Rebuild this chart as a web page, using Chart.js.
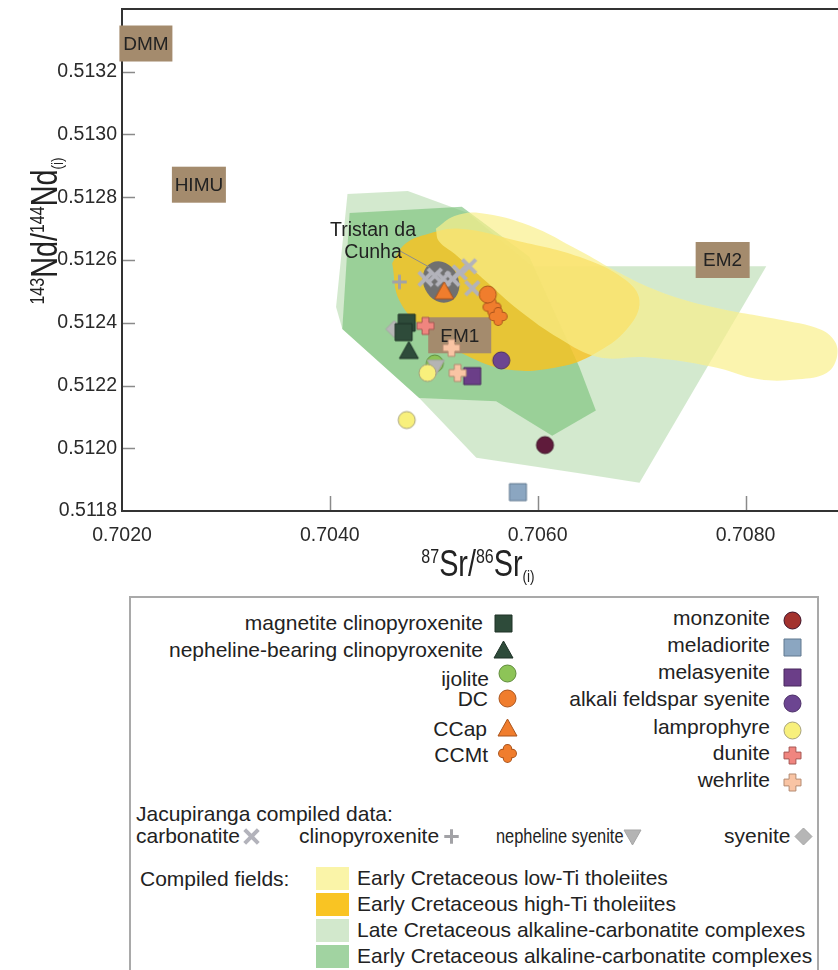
<!DOCTYPE html>
<html>
<head>
<meta charset="utf-8">
<script src="https://cdn.jsdelivr.net/npm/chart.js@4.4.1/dist/chart.umd.min.js"></script>
<style>
  body { margin: 0; background: #fff; }
  #wrap { position: relative; width: 838px; height: 970px; overflow: hidden; font-family: "Liberation Sans", Arial, sans-serif; color: #222; }
  #plot { position: absolute; left: 0; top: 0; }
  #legendBox { position: absolute; left: 129px; top: 596px; width: 686px; height: 420px; border: 2px solid #a9a9a9; }
  .lt { position: absolute; font-size: 21px; line-height: 24px; white-space: nowrap; }
  .sym { position: absolute; }
  .sw { position: absolute; width: 33px; height: 23px; }
</style>
</head>
<body>
<div id="wrap">
  <canvas id="plot" width="838" height="595"></canvas>
  <div id="legendBox"></div>
</div>
<script>
const FONT = '"Liberation Sans", Arial, Helvetica, sans-serif';

// axis ticks
const srTicks = [0.7020, 0.7040, 0.7060, 0.7080];
const ndTicks = [0.5118, 0.5120, 0.5122, 0.5124, 0.5126, 0.5128, 0.5130, 0.5132];

// compiled fields, outlines as [87Sr/86Sr, 143Nd/144Nd]
const lateCretAlk = [[0.70417, 0.51281], [0.70475, 0.51282], [0.70533, 0.51275], [0.70595, 0.51258],
  [0.70820, 0.51258], [0.70698, 0.51189], [0.70640, 0.51192], [0.70541, 0.51197],
  [0.70486, 0.51216], [0.70412, 0.51238], [0.70406, 0.51245]];
const earlyCretAlk = [[0.70419, 0.51275], [0.70527, 0.51277], [0.70592, 0.51261], [0.70640, 0.51226],
  [0.70656, 0.51212], [0.70614, 0.51204], [0.70560, 0.51215], [0.70486, 0.51216], [0.70412, 0.51238]];
const highTiThol = [[0.70460, 0.51259], [0.70472, 0.51265], [0.70491, 0.51268], [0.70525, 0.51270],
  [0.70582, 0.51266], [0.70640, 0.51261], [0.70683, 0.51254], [0.70698, 0.51247], [0.70686, 0.51238],
  [0.70654, 0.51230], [0.70621, 0.51226], [0.70573, 0.51225], [0.70529, 0.51230], [0.70491, 0.51238],
  [0.70467, 0.51247]];
const lowTiThol = [[0.70502, 0.51270], [0.70520, 0.51274], [0.70544, 0.51275], [0.70592, 0.51271],
  [0.70640, 0.51263], [0.70678, 0.51256], [0.70717, 0.51250], [0.70768, 0.51245], [0.70832, 0.51241],
  [0.70871, 0.51238], [0.70886, 0.51234], [0.70888, 0.51229], [0.70878, 0.51224], [0.70851, 0.51222],
  [0.70813, 0.51222], [0.70768, 0.51226], [0.70704, 0.51229], [0.70659, 0.51229], [0.70621, 0.51235],
  [0.70582, 0.51244], [0.70551, 0.51253], [0.70520, 0.51262], [0.70505, 0.51266]];

// samples (this study)
const magnetiteCpx = [[0.70474, 0.51240], [0.70471, 0.51237]];
const nephelineCpx = [[0.70476, 0.51231]];
const ijolite = [[0.70501, 0.51227]];
const dc = [[0.70552, 0.51249]];
const ccap = [[0.70510, 0.51250]];
const ccmt = [[0.70556, 0.51245], [0.70562, 0.51242]];
const monzonite = [[0.70607, 0.51201]];
const meladiorite = [[0.70581, 0.51186]];
const melasyenite = [[0.70537, 0.51223]];
const alkaliFsSyenite = [[0.70565, 0.51228]];
const lamprophyre = [[0.70494, 0.51224], [0.70474, 0.51209]];
const dunite = [[0.70492, 0.51239]];
const wehrlite = [[0.70517, 0.51232], [0.70523, 0.51224]];

// Jacupiranga compiled data
const jacCarbonatite = [[0.70492, 0.51254], [0.70501, 0.51255], [0.70509, 0.51254], [0.70518, 0.51254],
  [0.70525, 0.51256], [0.70534, 0.51258], [0.70537, 0.51251]];
const jacCpx = [[0.70467, 0.51253]];
const jacNephSyenite = [[0.70502, 0.51226]];
const jacSyenite = [[0.70462, 0.51238]];

// mantle end-members and Tristan da Cunha
const mantleNames = ['DMM', 'HIMU', 'EM1', 'EM2'];
const mantleSr = [0.70223, 0.70274, 0.70525, 0.70778];
const mantleNd = [0.51329, 0.51284, 0.51236, 0.51260];
const tristan = [[0.70507, 0.51253]];

// styles
const boxW = [53, 54, 63, 54];
const SYM = {
  magnetiteCpx: ['square', '#2e4b3a', '#1e3227'],
  nephelineCpx: ['triangle', '#2e4b3a', '#1e3227'],
  ijolite: ['circle', '#8dc457', '#5e8a3a'],
  dc: ['circle', '#f07d2d', '#a9541c'],
  ccap: ['triangle', '#f07d2d', '#a9541c'],
  ccmt: ['flower', '#f07d2d', '#a9541c'],
  monzonite: ['circle', '#5f1b3b', '#3d1026'],
  meladiorite: ['square', '#8ba6c1', '#61788f'],
  melasyenite: ['square', '#6b3e88', '#48285d'],
  alkaliFs: ['circle', '#6c4591', '#4a2d66'],
  lamprophyre: ['circle', '#f8f07c', '#a5a07a'],
  dunite: ['plus', '#f0857f', '#a65855'],
  wehrlite: ['plus', '#f9c4a4', '#b48b72'],
  jacCarb: ['x', '#b3b3bb'],
  jacCpx: ['thinPlus', '#a2a2a6'],
  jacNeph: ['triangleDown', '#b4b4b4', '#a5a5a5'],
  jacSyen: ['diamond', '#b6b6b6', '#a5a5a5']
};

function marker(kind, fill, line, s) {
  const c = document.createElement('canvas');
  const w = s + 6;
  c.width = w; c.height = w;
  const g = c.getContext('2d');
  g.translate(w / 2, w / 2);
  const r = s / 2;
  g.fillStyle = fill;
  g.strokeStyle = line || fill;
  g.lineWidth = 1;
  g.beginPath();
  if (kind === 'x' || kind === 'thinPlus') {
    const k = kind === 'x' ? r * 0.8 : r * 0.85;
    g.strokeStyle = fill;
    g.lineWidth = kind === 'x' ? 4 : 3;
    if (kind === 'x') {
      g.moveTo(-k, -k); g.lineTo(k, k); g.moveTo(k, -k); g.lineTo(-k, k);
    } else {
      g.moveTo(-k, 0); g.lineTo(k, 0); g.moveTo(0, -k); g.lineTo(0, k);
    }
    g.stroke();
    return c;
  }
  if (kind === 'flower') {
    const a = s * 0.22, e = r - a;
    g.lineCap = 'round';
    g.moveTo(-e, 0); g.lineTo(e, 0); g.moveTo(0, -e); g.lineTo(0, e);
    g.lineWidth = a * 2 + 2; g.stroke();
    g.strokeStyle = fill; g.lineWidth = a * 2; g.stroke();
    return c;
  }
  if (kind === 'square') g.rect(-r, -r, s, s);
  else if (kind === 'circle') g.arc(0, 0, r, 0, Math.PI * 2);
  else if (kind === 'triangle') { g.moveTo(0, -r - 1); g.lineTo(r + 1, r - 1); g.lineTo(-r - 1, r - 1); g.closePath(); }
  else if (kind === 'triangleDown') { g.moveTo(-r, -r + 2); g.lineTo(r, -r + 2); g.lineTo(0, r); g.closePath(); }
  else if (kind === 'diamond') { g.moveTo(0, -r); g.lineTo(r, 0); g.lineTo(0, r); g.lineTo(-r, 0); g.closePath(); }
  else if (kind === 'plus') {
    const a = s * 0.2;
    g.moveTo(-a, -r); g.lineTo(a, -r); g.lineTo(a, -a); g.lineTo(r, -a); g.lineTo(r, a); g.lineTo(a, a);
    g.lineTo(a, r); g.lineTo(-a, r); g.lineTo(-a, a); g.lineTo(-r, a); g.lineTo(-r, -a); g.lineTo(-a, -a);
    g.closePath();
  }
  g.fill(); g.stroke();
  return c;
}

function ellipseMark() {
  const c = document.createElement('canvas');
  c.width = 50; c.height = 52;
  const g = c.getContext('2d');
  g.translate(25, 26);
  g.rotate(-0.45);
  g.fillStyle = '#707070';
  g.beginPath();
  g.ellipse(0, 0, 17.5, 21.5, 0, 0, Math.PI * 2);
  g.fill();
  return c;
}

const pts = arr => arr.map(p => ({ x: p[0], y: p[1] }));

function sampleSet(label, arr, key, order) {
  const st = SYM[key];
  return { type: 'scatter', label, data: pts(arr), pointStyle: marker(st[0], st[1], st[2], 17), pointRadius: 9, order };
}

function fieldSet(label, arr, color, tension, order) {
  const d = pts(arr);
  d.push(d[0]);
  return { type: 'line', label, data: d, fill: 'shape', backgroundColor: color, borderColor: 'rgba(0,0,0,0)',
    borderWidth: 0, pointRadius: 0, tension, order };
}

const datasets = [
  fieldSet('Late Cretaceous alkaline-carbonatite complexes', lateCretAlk, 'rgba(175,215,165,0.55)', 0, 40),
  fieldSet('Early Cretaceous alkaline-carbonatite complexes', earlyCretAlk, 'rgba(125,195,125,0.65)', 0, 39),
  fieldSet('Early Cretaceous high-Ti tholeiites', highTiThol, 'rgba(250,194,30,0.8)', 0.4, 38),
  fieldSet('Early Cretaceous low-Ti tholeiites', lowTiThol, 'rgba(250,240,140,0.7)', 0.4, 37),
  { type: 'scatter', label: 'Tristan da Cunha', data: pts(tristan), pointStyle: ellipseMark(), pointRadius: 20, order: 30 },
  sampleSet('syenite', jacSyenite, 'jacSyen', 20),
  sampleSet('nepheline syenite', jacNephSyenite, 'jacNeph', 19),
  sampleSet('clinopyroxenite', jacCpx, 'jacCpx', 20),
  sampleSet('carbonatite', jacCarbonatite, 'jacCarb', 20),
  sampleSet('magnetite clinopyroxenite', magnetiteCpx, 'magnetiteCpx', 12),
  sampleSet('nepheline-bearing clinopyroxenite', nephelineCpx, 'nephelineCpx', 12),
  sampleSet('ijolite', ijolite, 'ijolite', 21),
  sampleSet('DC', dc, 'dc', 12),
  sampleSet('CCap', ccap, 'ccap', 10),
  sampleSet('CCMt', ccmt, 'ccmt', 12),
  sampleSet('monzonite', monzonite, 'monzonite', 12),
  sampleSet('meladiorite', meladiorite, 'meladiorite', 12),
  sampleSet('melasyenite', melasyenite, 'melasyenite', 12),
  sampleSet('alkali feldspar syenite', alkaliFsSyenite, 'alkaliFs', 12),
  sampleSet('lamprophyre', lamprophyre, 'lamprophyre', 12),
  sampleSet('dunite', dunite, 'dunite', 11),
  sampleSet('wehrlite', wehrlite, 'wehrlite', 11)
];
const lastFieldIndex = 3;

function richText(ctx, parts, sx) {
  let total = 0;
  parts.forEach(p => { ctx.font = p[1] + 'px ' + FONT; total += ctx.measureText(p[0]).width; });
  ctx.scale(sx, 1);
  let x = -total / 2;
  ctx.textAlign = 'left';
  ctx.textBaseline = 'alphabetic';
  parts.forEach(p => {
    ctx.font = p[1] + 'px ' + FONT;
    ctx.fillText(p[0], x, p[2]);
    x += ctx.measureText(p[0]).width;
  });
}

const decor = {
  id: 'decor',
  afterDatasetDraw(chart, args) {
    if (args.index !== lastFieldIndex) return;
    const ctx = chart.ctx, xs = chart.scales.x, ys = chart.scales.y;
    ctx.save();
    mantleNames.forEach((n, i) => {
      const px = xs.getPixelForValue(mantleSr[i]), py = ys.getPixelForValue(mantleNd[i]);
      ctx.fillStyle = '#a48b6d';
      ctx.fillRect(px - boxW[i] / 2, py - 18, boxW[i], 36);
      ctx.fillStyle = '#222';
      ctx.font = '19px ' + FONT;
      ctx.textAlign = 'center';
      ctx.textBaseline = 'middle';
      ctx.fillText(n, px, py + 1);
    });
    ctx.restore();
  },
  afterDatasetsDraw(chart) {
    const ctx = chart.ctx, xs = chart.scales.x, ys = chart.scales.y;
    const px = xs.getPixelForValue(tristan[0][0]), py = ys.getPixelForValue(tristan[0][1]);
    ctx.save();
    ctx.strokeStyle = '#8c8c8c';
    ctx.lineWidth = 1;
    ctx.beginPath();
    ctx.moveTo(px - 41, py - 31);
    ctx.lineTo(px - 12, py - 15);
    ctx.stroke();
    ctx.fillStyle = '#222';
    ctx.font = '19.5px ' + FONT;
    ctx.textAlign = 'center';
    ctx.textBaseline = 'middle';
    ctx.fillText('Tristan da', px - 68, py - 51);
    ctx.fillText('Cunha', px - 68, py - 29);
    ctx.restore();
  },
  afterDraw(chart) {
    const ctx = chart.ctx, xs = chart.scales.x, ys = chart.scales.y, a = chart.chartArea;
    ctx.save();
    ctx.strokeStyle = '#8a8a8a';
    ctx.lineWidth = 1.5;
    ctx.beginPath();
    ndTicks.forEach(v => {
      if (v === ndTicks[0]) return;
      const y = Math.round(ys.getPixelForValue(v)) + 0.5;
      ctx.moveTo(a.left + 1, y); ctx.lineTo(a.left + 13, y);
    });
    srTicks.forEach(v => {
      if (v === srTicks[0]) return;
      const x = Math.round(xs.getPixelForValue(v)) + 0.5;
      ctx.moveTo(x, a.bottom - 1); ctx.lineTo(x, a.bottom - 15);
    });
    ctx.stroke();
    ctx.strokeStyle = '#333';
    ctx.lineWidth = 2;
    ctx.beginPath();
    ctx.moveTo(a.left - 1, a.top);
    ctx.lineTo(a.right, a.top);
    ctx.stroke();

    ctx.fillStyle = '#222';
    ctx.save();
    ctx.translate(478, 576);
    richText(ctx, [['87', 20, -13], ['Sr/', 36, 0], ['86', 20, -13], ['Sr', 36, 0], ['(i)', 17, 6]], 0.8);
    ctx.restore();
    ctx.save();
    ctx.translate(57, 231);
    ctx.rotate(-Math.PI / 2);
    richText(ctx, [['143', 20, -13], ['Nd/', 36, 0], ['144', 20, -13], ['Nd', 36, 0], ['(i)', 17, 6]], 0.8);
    ctx.restore();
    ctx.restore();
  }
};

Chart.defaults.font.family = FONT;

new Chart(document.getElementById('plot'), {
  type: 'scatter',
  data: { datasets },
  options: {
    responsive: false,
    animation: false,
    devicePixelRatio: 1,
    events: [],
    layout: { autoPadding: false, padding: { top: 9, right: 0, bottom: 0, left: 0 } },
    plugins: { legend: { display: false }, tooltip: { enabled: false } },
    scales: {
      x: {
        type: 'linear', min: 0.7020, max: 0.70889, bounds: 'data',
        afterBuildTicks: s => { s.ticks = srTicks.map(v => ({ value: v })); },
        afterFit: s => { s.height = 84; s.paddingLeft = 0; s.paddingRight = 0; },
        grid: { display: false, drawTicks: false },
        border: { display: true, color: '#333', width: 2 },
        ticks: { padding: 13, color: '#2a2a2a', font: { size: 19.5 }, maxRotation: 0, autoSkip: false,
          callback: v => v.toFixed(4) }
      },
      y: {
        type: 'linear', min: 0.5118, max: 0.5134, bounds: 'data',
        afterBuildTicks: s => { s.ticks = ndTicks.map(v => ({ value: v })); },
        afterFit: s => { s.width = 122; s.paddingTop = 0; s.paddingBottom = 0; },
        grid: { display: false, drawTicks: false },
        border: { display: true, color: '#333', width: 2 },
        ticks: { padding: 5, color: '#2a2a2a', font: { size: 19.5 }, autoSkip: false,
          callback: v => v.toFixed(4) }
      }
    }
  },
  plugins: [decor]
});

// legend
const wrap = document.getElementById('wrap');
function putText(txt, x, y, anchor, sx) {
  const el = document.createElement('div');
  el.className = 'lt';
  el.textContent = txt;
  el.style.left = x + 'px';
  el.style.top = y + 'px';
  el.style.transformOrigin = anchor === 'right' ? 'right center' : 'left center';
  el.style.transform = (anchor === 'right' ? 'translate(-100%,-50%)' : 'translate(0,-50%)') + (sx ? ' scaleX(' + sx + ')' : '');
  wrap.appendChild(el);
}
function putSym(key, cx, cy, fillOverride) {
  const st = SYM[key];
  const c = marker(st[0], fillOverride || st[1], st[2], 17);
  c.className = 'sym';
  c.style.left = (cx - c.width / 2) + 'px';
  c.style.top = (cy - c.height / 2) + 'px';
  wrap.appendChild(c);
}

const legendLeft = [
  ['magnetite clinopyroxenite', 'magnetiteCpx', 483, 623, 503, 623],
  ['nepheline-bearing clinopyroxenite', 'nephelineCpx', 483, 650, 503, 650],
  ['ijolite', 'ijolite', 489, 679, 507, 673],
  ['DC', 'dc', 488, 699, 507, 698],
  ['CCap', 'ccap', 487, 729, 507, 728],
  ['CCMt', 'ccmt', 488, 755, 507, 753]
];
const legendRight = [
  ['monzonite', 'monzonite', 618, 620],
  ['meladiorite', 'meladiorite', 645, 647],
  ['melasyenite', 'melasyenite', 672, 677],
  ['alkali feldspar syenite', 'alkaliFs', 699, 703],
  ['lamprophyre', 'lamprophyre', 727, 730],
  ['dunite', 'dunite', 753, 755],
  ['wehrlite', 'wehrlite', 780, 782]
];
legendLeft.forEach(r => { putText(r[0], r[2], r[3], 'right'); putSym(r[1], r[4], r[5]); });
legendRight.forEach(r => {
  putText(r[0], 770, r[2], 'right');
  putSym(r[1], 792, r[3], r[1] === 'monzonite' ? '#a3322e' : null);
});

putText('Jacupiranga compiled data:', 136, 814, 'left');
const jacRow = [['carbonatite', 'jacCarb', 136, 251, 0], ['clinopyroxenite', 'jacCpx', 299, 451, 0],
  ['nepheline syenite', 'jacNeph', 496, 632, 0.78], ['syenite', 'jacSyen', 724, 803, 0]];
jacRow.forEach(r => { putText(r[0], r[2], 836, 'left', r[4]); putSym(r[1], r[3], 836); });

putText('Compiled fields:', 140, 879, 'left');
const fieldLegend = [
  ['Early Cretaceous low-Ti tholeiites', '#faf4a8', 878],
  ['Early Cretaceous high-Ti tholeiites', '#f9c423', 904],
  ['Late Cretaceous alkaline-carbonatite complexes', '#d2e8cc', 930],
  ['Early Cretaceous alkaline-carbonatite complexes', '#a1d3a1', 956]
];
fieldLegend.forEach(f => {
  const sw = document.createElement('div');
  sw.className = 'sw';
  sw.style.left = '316px';
  sw.style.top = (f[2] - 11.5) + 'px';
  sw.style.background = f[1];
  wrap.appendChild(sw);
  putText(f[0], 357, f[2], 'left');
});
</script>
</body>
</html>
